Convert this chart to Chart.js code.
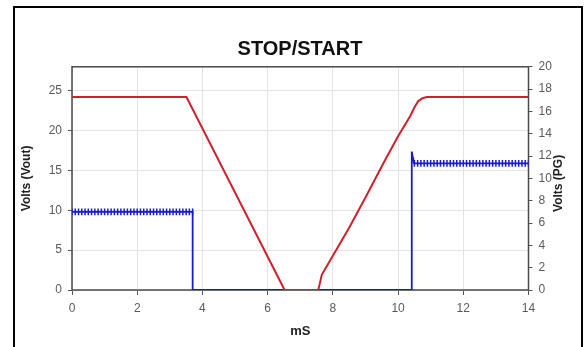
<!DOCTYPE html>
<html>
<head>
<meta charset="utf-8">
<title>STOP/START</title>
<script src="https://cdn.jsdelivr.net/npm/chart.js@4/dist/chart.umd.min.js"></script>
<style>
  html, body { margin: 0; padding: 0; background: #fff; }
  #wrap { position: relative; width: 587px; height: 347px; overflow: hidden; }
  #frame {
    position: absolute; left: 13px; top: 6px; width: 566px; height: 360px;
    border: 2px solid #000; pointer-events: none;
  }
</style>
</head>
<body>
<div id="wrap">
  <canvas id="stopStart" width="587" height="347"></canvas>
  <div id="frame"></div>
</div>
<script>
// Vout trace (left axis), time in mS
const voutTime  = [0, 3.51, 6.52, 7.55, 7.6, 7.66, 8.0, 8.5, 9.0, 9.55, 10.0, 10.37, 10.5, 10.62, 10.75, 10.88, 11.2, 14];
const voutVolts = [24.2, 24.2, 0, 0, 0.8, 1.9, 4.3, 7.8, 11.6, 15.9, 19.3, 21.8, 22.9, 23.7, 24.05, 24.2, 24.2, 24.2];

// PG trace (right axis), sampled with ripple
const pgTime = [
  0, 0.1, 0.2, 0.3, 0.4, 0.5, 0.6, 0.7, 0.8, 0.9, 1.0, 1.1, 1.2, 1.3, 1.4, 1.5, 1.6, 1.7, 1.8, 1.9,
  2.0, 2.1, 2.2, 2.3, 2.4, 2.5, 2.6, 2.7, 2.8, 2.9, 3.0, 3.1, 3.2, 3.3, 3.4, 3.5, 3.6, 3.7,
  3.7, 10.42, 10.42, 10.47,
  10.5, 10.6, 10.7, 10.8, 10.9, 11.0, 11.1, 11.2, 11.3, 11.4, 11.5, 11.6, 11.7, 11.8, 11.9,
  12.0, 12.1, 12.2, 12.3, 12.4, 12.5, 12.6, 12.7, 12.8, 12.9, 13.0, 13.1, 13.2, 13.3, 13.4,
  13.5, 13.6, 13.7, 13.8, 13.9, 14.0
];
const pgVolts = [
  7.0, 7.0, 7.0, 7.0, 7.0, 7.0, 7.0, 7.0, 7.0, 7.0, 7.0, 7.0, 7.0, 7.0, 7.0, 7.0, 7.0, 7.0, 7.0, 7.0,
  7.0, 7.0, 7.0, 7.0, 7.0, 7.0, 7.0, 7.0, 7.0, 7.0, 7.0, 7.0, 7.0, 7.0, 7.0, 7.0, 7.0, 7.0,
  0, 0, 12.4, 11.6,
  11.35, 11.35, 11.35, 11.35, 11.35, 11.35, 11.35, 11.35, 11.35, 11.35, 11.35, 11.35, 11.35, 11.35, 11.35,
  11.35, 11.35, 11.35, 11.35, 11.35, 11.35, 11.35, 11.35, 11.35, 11.35, 11.35, 11.35, 11.35, 11.35, 11.35,
  11.35, 11.35, 11.35, 11.35, 11.35, 11.35
];

const FONT = "'Liberation Sans', Arial, sans-serif";
const tickFont = { family: FONT, size: 12 };
const titleFont = { family: FONT, size: 12, weight: 'bold' };

// box around the plot area
const plotBox = {
  id: 'plotBox',
  beforeDatasetsDraw(chart) {
    const a = chart.chartArea;
    const ctx = chart.ctx;
    ctx.save();
    ctx.strokeStyle = '#4a4a4a';
    ctx.lineWidth = 1.5;
    ctx.strokeRect(a.left, a.top, a.right - a.left, a.bottom - a.top);
    ctx.restore();
  }
};

// right axis title reads bottom-to-top like the left one
const rightTitle = {
  id: 'rightTitle',
  afterDraw(chart) {
    const s = chart.scales.y2;
    const ctx = chart.ctx;
    ctx.save();
    ctx.translate(s.right - 28, (s.top + s.bottom) / 2 + 5);
    ctx.rotate(-Math.PI / 2);
    ctx.font = 'bold 12px ' + FONT;
    ctx.fillStyle = '#222';
    ctx.textAlign = 'center';
    ctx.textBaseline = 'middle';
    ctx.fillText('Volts (PG)', 0, 0);
    ctx.restore();
  }
};

const ctx = document.getElementById('stopStart').getContext('2d');
new Chart(ctx, {
  type: 'line',
  data: {
    datasets: [
      {
        label: 'Vout',
        data: voutTime.map((t, i) => ({ x: t, y: voutVolts[i] })),
        yAxisID: 'y',
        borderColor: '#d0202c',
        borderWidth: 2,
        pointRadius: 0,
        tension: 0
      },
      {
        label: 'PG',
        data: pgTime.map((t, i) => ({ x: t, y: pgVolts[i] })),
        yAxisID: 'y2',
        borderColor: '#1a1ad0',
        borderWidth: 1.8,
        pointStyle: 'line',
        rotation: 90,
        pointRadius: c => (c.raw && c.raw.y > 1 && c.raw.y < 12) ? 3.3 : 0,
        pointBorderColor: '#1a1ad0',
        pointBorderWidth: 1.5,
        tension: 0
      }
    ]
  },
  options: {
    responsive: false,
    animation: false,
    layout: { padding: { left: 13, right: 0, top: 0, bottom: 0 } },
    plugins: {
      legend: { display: false },
      tooltip: { enabled: false },
      title: {
        display: true,
        text: 'STOP/START',
        color: '#111',
        font: { family: FONT, size: 20, weight: 'bold' },
        padding: { top: 37, bottom: 5.8 }
      }
    },
    scales: {
      x: {
        type: 'linear',
        min: 0,
        max: 14,
        ticks: { stepSize: 2, color: '#5a5a5a', font: tickFont, padding: 6, maxRotation: 0 },
        grid: { color: '#e3e3e3', tickColor: '#555', tickLength: 5 },
        border: { display: false },
        title: { display: true, text: 'mS', color: '#222', font: { family: FONT, size: 13, weight: 'bold' }, padding: { top: 0, bottom: 8 } },
        afterFit: s => { s.height = 57; }
      },
      y: {
        position: 'left',
        min: 0,
        max: 28,
        ticks: { stepSize: 5, includeBounds: false, color: '#5a5a5a', font: tickFont, padding: 6 },
        grid: { color: '#e3e3e3', tickColor: '#555', tickLength: 4 },
        border: { display: false },
        title: { display: true, text: 'Volts (Vout)', color: '#222', font: titleFont, padding: { top: 6, bottom: 0 } },
        afterFit: s => { s.width = 59; }
      },
      y2: {
        position: 'right',
        min: 0,
        max: 20,
        ticks: { stepSize: 2, color: '#5a5a5a', font: tickFont, padding: 6 },
        grid: { drawOnChartArea: false, tickColor: '#555', tickLength: 4 },
        border: { display: false },
        title: { display: false },
        afterFit: s => { s.width = 58.5; }
      }
    }
  },
  plugins: [plotBox, rightTitle]
});
</script>
</body>
</html>
